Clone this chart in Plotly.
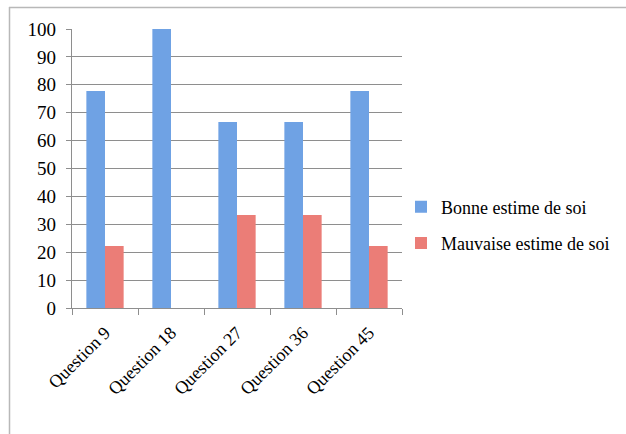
import plotly.graph_objects as go

categories = ["Question 9", "Question 18", "Question 27", "Question 36", "Question 45"]
bonne = [77.78, 100, 66.67, 66.67, 77.78]
mauvaise = [22.22, 0, 33.33, 33.33, 22.22]
series_names = ["Bonne estime de soi", "Mauvaise estime de soi"]

W, H = 626, 434
L, R, T, B = 72, 224, 29, 126
pw, ph = W - L - R, H - T - B

def px(x):
    return (x - L) / pw

def py(y):
    return (H - B - y) / ph

font = "Liberation Serif"

fig = go.Figure()
fig.add_trace(go.Bar(x=categories, y=bonne, name=series_names[0], legendgroup="a",
                     marker=dict(color="#6fa2e4", line=dict(width=0))))
fig.add_trace(go.Bar(x=categories, y=mauvaise, name=series_names[1], legendgroup="b",
                     marker=dict(color="#eb7d77", line=dict(width=0))))

grid = "#8e8e8e"
fig.update_layout(
    width=W, height=H,
    margin=dict(l=L, r=R, t=T, b=B, pad=0, autoexpand=False),
    paper_bgcolor="white", plot_bgcolor="white",
    barmode="group", bargap=0.435, bargroupgap=0,
    font=dict(family=font, size=18, color="black"),
    legend=dict(x=px(401), y=py(225), xanchor="left", yanchor="middle",
                font=dict(family=font, size=18), itemwidth=30,
                tracegroupgap=10, bgcolor="rgba(0,0,0,0)"),
    xaxis=dict(tickangle=-45, showgrid=False, showline=True, linecolor=grid,
               linewidth=1.2, ticks="outside", tickson="boundaries",
               ticklen=6, tickcolor=grid, ticklabelstandoff=6,
               tickfont=dict(family=font, size=18)),
    yaxis=dict(range=[0, 100], dtick=10, showgrid=True, gridcolor=grid,
               gridwidth=1.2, showline=True, linecolor=grid, linewidth=1.2,
               ticks="outside", ticklen=5, tickcolor=grid, zeroline=False,
               ticklabelstandoff=6, tickfont=dict(family=font, size=19)),
    shapes=[
        dict(type="line", xref="paper", yref="paper", x0=px(9), x1=px(630),
             y0=py(7.5), y1=py(7.5), line=dict(color="#b8b8b8", width=1.5)),
        dict(type="line", xref="paper", yref="paper", x0=px(9.5), x1=px(9.5),
             y0=py(7), y1=py(440), line=dict(color="#b8b8b8", width=1.5)),
    ],
)

fig.write_html("out.html")
